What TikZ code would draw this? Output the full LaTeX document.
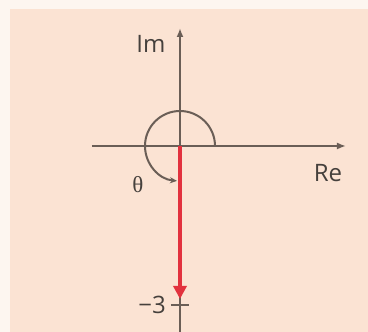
\documentclass[tikz,border=0pt]{standalone}
\usepackage{fontspec}
\setmainfont{Open Sans}
\newfontfamily\thetafont{Liberation Serif}
\usetikzlibrary{arrows.meta}
\definecolor{outerbg}{HTML}{FDF6F0}
\definecolor{peach}{HTML}{FBE3D3}
\definecolor{axisgray}{HTML}{6A5E56}
\definecolor{textgray}{HTML}{45403C}
\definecolor{vecred}{HTML}{E2323E}
\tikzset{
  axis/.style={draw=axisgray, line width=2.8pt, -{Latex[length=9pt,width=7pt]}},
  lbl/.style={text=textgray, font=\fontsize{24}{24}\selectfont, inner sep=0pt},
}
\begin{document}
\begin{tikzpicture}[x=1pt,y=1pt]
  \fill[outerbg] (0,0) rectangle (368,332);
  \fill[peach] (10,0) rectangle (368,323);
  \useasboundingbox (0,0) rectangle (368,332);
  \coordinate (O) at (180,186);
  \coordinate (imtop) at (180,304);
  \coordinate (imbot) at (180,0);
  \coordinate (releft) at (92,186);
  \coordinate (reright) at (346,186);
  \coordinate (vtip) at (180,33);
  \coordinate (tickL) at (171,27);
  \coordinate (tickR) at (189,27);
  \draw[axis] (imbot) -- (imtop);
  \draw[axis] (releft) -- (reright);
  \draw[axisgray, line width=2pt] (tickL) -- (tickR);
  \draw[axisgray, line width=2pt, -{Stealth[length=7pt,width=6pt]}] ([xshift=35pt]O) arc[start angle=0, end angle=265, radius=35pt];
  \draw[vecred, line width=3.2pt, -{Triangle[length=13pt,width=13pt]}] (O) -- (vtip);
  \node[lbl] (im) at (151,288) {Im};
  \node[lbl] (re) at (328,159) {Re};
  \node[lbl, font=\thetafont\fontsize{23}{23}\selectfont] (th) at (138,147) {θ};
  \node[lbl] (m3) at (152,27) {−3};
\end{tikzpicture}
\end{document}
